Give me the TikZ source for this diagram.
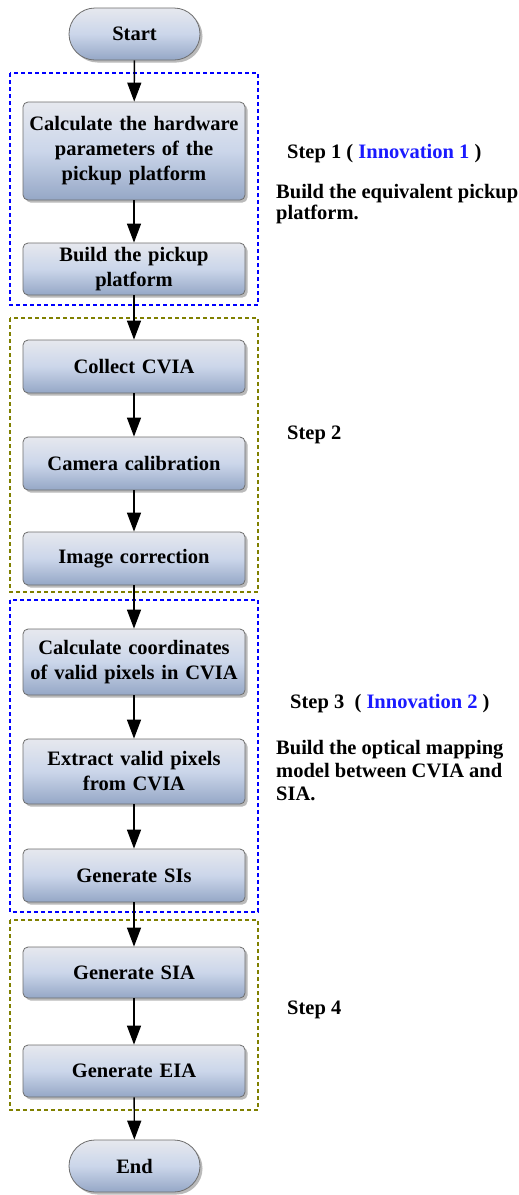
\documentclass[tikz,border=0pt]{standalone}
\usepackage{fontspec}
\setmainfont{Liberation Serif}
\usetikzlibrary{arrows.meta,shadows}
\definecolor{boxtop}{HTML}{E6E8EE}
\definecolor{boxmid}{HTML}{CBD6EA}
\definecolor{boxbot}{HTML}{95A7C6}
\definecolor{bord}{HTML}{6E6E6E}
\definecolor{dblue}{HTML}{0000FF}
\definecolor{dolive}{HTML}{808000}
\definecolor{innov}{HTML}{1A1AFF}
\begin{document}
\begin{tikzpicture}[x=1pt,y=-1pt,
  font=\fontsize{20.5}{25}\selectfont\bfseries,
  proc/.style={draw=bord, line width=0.8pt, rounded corners=5pt,
    top color=boxtop, bottom color=boxbot, middle color=boxmid,
    minimum width=222pt, text width=218pt, align=center, inner sep=0pt,
    drop shadow={shadow xshift=2.5pt, shadow yshift=-2.5pt, fill=black!45, opacity=0.6}},
  term/.style={proc, rounded corners=26pt, minimum width=131pt, text width=120pt, minimum height=52pt},
  flow/.style={-{Triangle[width=14pt,length=19pt]}, line width=1.4pt},
  grp/.style={dash pattern=on 4pt off 3pt, line width=2.6pt},
  note/.style={inner sep=0pt, align=left}]
\useasboundingbox (0,0) rectangle (519,1195);
\fill[white] (0,0) rectangle (519,1195);
% groups
\draw[grp, draw=dblue] (10,73) rectangle (258,305);
\draw[grp, draw=dolive] (10,318) rectangle (258,592);
\draw[grp, draw=dblue] (10,600) rectangle (258,912);
\draw[grp, draw=dolive] (10,920) rectangle (258,1110);
% nodes
\node[term] (start) at (134.5,34) {Start};
\node[proc, minimum height=98pt] (calc) at (134,151) {Calculate the hardware\\parameters of the\\pickup platform};
\node[proc, minimum height=52pt] (build) at (134,269) {Build the pickup\\platform};
\node[proc, minimum height=53pt] (collect) at (134,366.5) {Collect CVIA};
\node[proc, minimum height=53pt] (camera) at (134,463.5) {Camera calibration};
\node[proc, minimum height=53pt] (imgcorr) at (134,558.5) {Image correction};
\node[proc, minimum height=66pt] (coord) at (134,662) {Calculate coordinates\\of valid pixels in CVIA};
\node[proc, minimum height=65pt] (extract) at (134,771.5) {Extract valid pixels\\from CVIA};
\node[proc, minimum height=53pt] (gensis) at (134,875.5) {Generate SIs};
\node[proc, minimum height=51pt] (gensia) at (134,972.5) {Generate SIA};
\node[proc, minimum height=52pt] (geneia) at (134,1071) {Generate EIA};
\node[term] (end) at (134.5,1166) {End};
% arrows
\draw[flow] (start) -- (calc);
\draw[flow] (calc) -- (build);
\draw[flow] (build) -- (collect);
\draw[flow] (collect) -- (camera);
\draw[flow] (camera) -- (imgcorr);
\draw[flow] (imgcorr) -- (coord);
\draw[flow] (coord) -- (extract);
\draw[flow] (extract) -- (gensis);
\draw[flow] (gensis) -- (gensia);
\draw[flow] (gensia) -- (geneia);
\draw[flow] (geneia) -- (end);
% notes
\node[note, anchor=west] (s1) at (287,154) {Step 1 ( \textcolor{innov}{Innovation 1} )};
\node[note, anchor=north west, font=\fontsize{20.5}{21.5}\selectfont\bfseries] (s1d) at (276,184) {Build the equivalent pickup\\platform.};
\node[note, anchor=west] (s2) at (287,435) {Step 2};
\node[note, anchor=west] (s3) at (290,704) {Step 3\ \ ( \textcolor{innov}{Innovation 2} )};
\node[note, anchor=north west, font=\fontsize{20.5}{23}\selectfont\bfseries] (s3d) at (276,740) {Build the optical mapping\\model between CVIA and\\SIA.};
\node[note, anchor=west] (s4) at (287,1010) {Step 4};
\end{tikzpicture}
\end{document}
